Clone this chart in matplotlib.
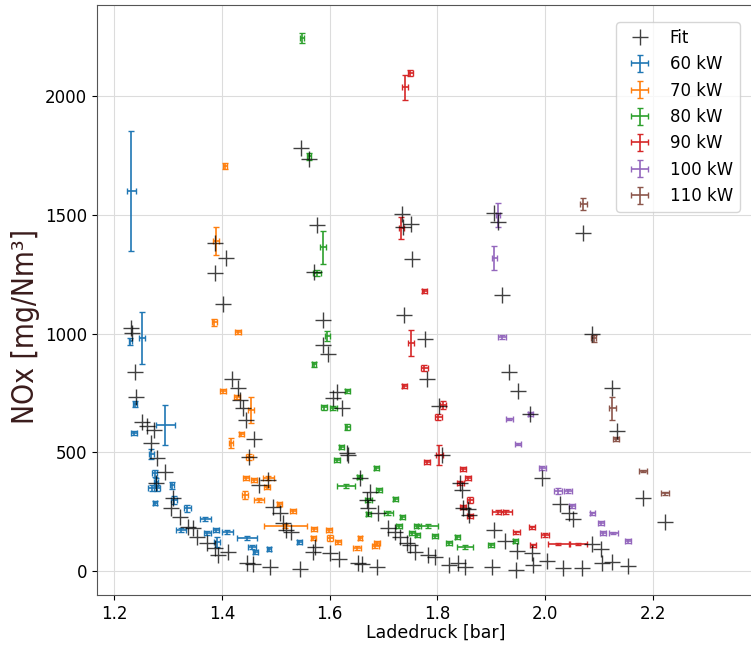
import numpy as np
import matplotlib
matplotlib.use('Agg')
import matplotlib.pyplot as plt

# Messpunkte je Leistungsstufe: x, y, xerr, yerr
p60_x = [1.232, 1.252, 1.230, 1.239, 1.295, 1.237, 1.269, 1.275, 1.278, 1.270, 1.280, 1.276, 1.308,
         1.311, 1.336, 1.324, 1.369, 1.373, 1.389, 1.391, 1.410, 1.447, 1.456, 1.462, 1.488, 1.544]
p60_y = [1600, 981, 968, 703, 615, 581, 493, 412, 375, 349, 349, 286, 362,
         299, 265, 173, 219, 160, 173, 122, 164, 139, 101, 80, 93, 122]
p60_xerr = [0.009, 0.006, 0.003, 0.004, 0.018, 0.006, 0.005, 0.004, 0.004, 0.008, 0.006, 0.004, 0.004,
            0.006, 0.006, 0.010, 0.010, 0.006, 0.006, 0.006, 0.010, 0.019, 0.008, 0.005, 0.004, 0.004]
p60_yerr = [253, 110, 15, 12, 86, 10, 20, 15, 15, 12, 12, 10, 15,
            15, 15, 10, 10, 10, 10, 20, 10, 10, 10, 10, 10, 10]

p70_x = [1.406, 1.389, 1.386, 1.430, 1.402, 1.428, 1.454, 1.436, 1.417, 1.451, 1.445, 1.460, 1.486, 1.484,
         1.443, 1.469, 1.507, 1.532, 1.518, 1.571, 1.599, 1.570, 1.601, 1.616, 1.657, 1.651, 1.688, 1.685]
p70_y = [1705, 1389, 1048, 1006, 758, 733, 678, 577, 539, 480, 392, 383, 392, 354,
         320, 299, 282, 253, 190, 177, 173, 139, 139, 122, 139, 97, 118, 105]
p70_xerr = [0.004, 0.006, 0.005, 0.005, 0.006, 0.005, 0.006, 0.005, 0.004, 0.006, 0.006, 0.006, 0.010, 0.006,
            0.006, 0.010, 0.005, 0.005, 0.040, 0.005, 0.006, 0.005, 0.006, 0.005, 0.004, 0.008, 0.006, 0.006]
p70_yerr = [12, 59, 15, 8, 10, 10, 53, 8, 20, 12, 8, 8, 8, 10,
            15, 8, 10, 8, 8, 8, 8, 8, 12, 8, 8, 8, 8, 8]

p80_x = [1.549, 1.562, 1.588, 1.577, 1.596, 1.571, 1.633, 1.590, 1.607, 1.633, 1.622, 1.614, 1.631, 1.687,
         1.655, 1.692, 1.672, 1.722, 1.672, 1.709, 1.735, 1.729, 1.763, 1.753, 1.783, 1.763, 1.796, 1.837,
         1.822, 1.852, 1.900, 1.945]
p80_y = [2244, 1747, 1364, 1255, 989, 871, 758, 690, 686, 606, 522, 467, 358, 434,
         396, 341, 299, 303, 240, 244, 227, 190, 190, 160, 190, 152, 147, 143,
         118, 101, 109, 126]
p80_xerr = [0.003, 0.004, 0.006, 0.008, 0.005, 0.004, 0.005, 0.005, 0.006, 0.004, 0.005, 0.005, 0.017, 0.005,
            0.005, 0.005, 0.006, 0.005, 0.005, 0.008, 0.005, 0.006, 0.006, 0.006, 0.019, 0.005, 0.005, 0.005,
            0.005, 0.015, 0.005, 0.005]
p80_yerr = [20, 15, 70, 12, 20, 10, 8, 10, 8, 12, 10, 8, 10, 8,
            10, 8, 10, 8, 10, 8, 8, 8, 8, 8, 8, 8, 8, 8,
            8, 8, 8, 8]

p90_x = [1.750, 1.740, 1.733, 1.776, 1.751, 1.776, 1.739, 1.811, 1.802, 1.781, 1.804, 1.848, 1.857,
         1.843, 1.861, 1.848, 1.861, 1.912, 1.928, 1.947, 1.976, 1.978, 2.000, 2.025, 2.062]
p90_y = [2097, 2037, 1444, 1179, 960, 855, 779, 699, 648, 459, 488, 429, 392,
         370, 299, 269, 232, 248, 248, 164, 185, 109, 152, 114, 114]
p90_xerr = [0.004, 0.005, 0.005, 0.005, 0.006, 0.006, 0.005, 0.006, 0.006, 0.006, 0.006, 0.006, 0.005,
            0.006, 0.006, 0.006, 0.005, 0.010, 0.010, 0.006, 0.005, 0.005, 0.008, 0.020, 0.015]
p90_yerr = [12, 52, 46, 10, 55, 12, 8, 15, 12, 10, 43, 8, 8,
            8, 12, 8, 8, 8, 8, 6, 6, 6, 8, 6, 6]

p100_x = [1.913, 1.906, 1.920, 1.934, 1.950, 1.973, 1.995, 2.024, 2.043, 2.050, 2.088, 2.104, 2.108, 2.127, 2.154]
p100_y = [1499, 1318, 985, 640, 535, 661, 434, 337, 337, 274, 244, 202, 160, 160, 126]
p100_xerr = [0.004, 0.005, 0.007, 0.006, 0.005, 0.005, 0.006, 0.007, 0.007, 0.006, 0.005, 0.005, 0.006, 0.008, 0.006]
p100_yerr = [50, 52, 8, 6, 6, 8, 8, 12, 8, 8, 6, 8, 8, 6, 8]

p110_x = [2.071, 2.090, 2.125, 2.132, 2.182, 2.223]
p110_y = [1545, 981, 686, 556, 421, 328]
p110_xerr = [0.006, 0.005, 0.006, 0.006, 0.007, 0.008]
p110_yerr = [25, 15, 48, 8, 6, 6]

# Fit-Werte
fit_x = [1.547, 1.562, 1.577, 1.388, 1.408, 1.388, 1.571, 1.402, 1.232, 1.233, 1.239, 1.241, 1.252, 1.261,
         1.274, 1.269, 1.279, 1.295, 1.278, 1.310, 1.306, 1.323, 1.338, 1.347, 1.354, 1.373, 1.388, 1.393,
         1.412, 1.447, 1.458, 1.490, 1.545, 1.419, 1.430, 1.434, 1.440, 1.445, 1.460, 1.451, 1.469, 1.486,
         1.495, 1.508, 1.514, 1.519, 1.529, 1.573, 1.601, 1.618, 1.588, 1.588, 1.597, 1.614, 1.607, 1.623,
         1.633, 1.635, 1.657, 1.675, 1.670, 1.672, 1.690, 1.709, 1.722, 1.731, 1.744, 1.759, 1.570, 1.653,
         1.688, 1.661, 1.735, 1.737, 1.751, 1.753, 1.906, 1.913, 1.920, 2.071, 1.739, 1.778, 1.781, 1.804,
         1.809, 1.843, 1.846, 1.848, 1.857, 1.859, 1.934, 1.950, 1.973, 1.995, 2.027, 2.045, 2.052, 2.088,
         1.906, 1.926, 1.948, 1.976, 2.004, 1.750, 1.783, 1.796, 1.822, 1.839, 1.852, 1.902, 1.947, 1.978,
         2.034, 2.069, 2.134, 2.182, 2.223, 2.088, 2.104, 2.106, 2.125, 2.154, 2.125]
fit_y = [1781, 1735, 1457, 1381, 1318, 1255, 1259, 1124, 1023, 1002, 838, 733, 627, 610,
         594, 539, 476, 417, 370, 307, 265, 227, 185, 181, 143, 118, 97, 67,
         80, 34, 29, 17, 8, 808, 770, 720, 686, 636, 556, 480, 362, 383,
         269, 244, 202, 173, 164, 101, 76, 51, 1057, 951, 914, 754, 728, 686,
         497, 488, 392, 333, 299, 265, 244, 181, 164, 143, 118, 80, 80, 34,
         17, 29, 1503, 1448, 1461, 1313, 1507, 1469, 1162, 1423, 1078, 977, 808, 695,
         488, 370, 341, 265, 261, 236, 838, 758, 661, 392, 282, 244, 219, 998,
         173, 126, 84, 76, 42, 109, 67, 59, 25, 34, 17, 17, 4, 25,
         13, 13, 590, 307, 206, 114, 93, 34, 38, 21, 770]

series = [
    ('60 kW', p60_x, p60_y, p60_xerr, p60_yerr, 'tab:blue'),
    ('70 kW', p70_x, p70_y, p70_xerr, p70_yerr, 'tab:orange'),
    ('80 kW', p80_x, p80_y, p80_xerr, p80_yerr, 'tab:green'),
    ('90 kW', p90_x, p90_y, p90_xerr, p90_yerr, 'tab:red'),
    ('100 kW', p100_x, p100_y, p100_xerr, p100_yerr, 'tab:purple'),
    ('110 kW', p110_x, p110_y, p110_xerr, p110_yerr, 'tab:brown'),
]

fig = plt.figure(figsize=(7.51, 6.45), dpi=100)
# Achse ragt rechts etwas über das Bild hinaus (wie in der Vorlage abgeschnitten)
ax = fig.add_axes([0.129, 0.0775, 0.903, 0.9145])

for label, x, y, xe, ye, col in series:
    ax.errorbar(x, y, xerr=xe, yerr=ye, fmt='none', ecolor=col, elinewidth=1.2,
                capsize=2, capthick=1.0, label=label, zorder=2)

ax.plot(fit_x, fit_y, linestyle='none', marker='+', markersize=11, markeredgewidth=1.0,
        color='black', alpha=0.75, label='Fit', zorder=3)

ax.set_xlim(1.168, 2.427)
ax.set_ylim(-101, 2383)
ax.set_xticks([1.2, 1.4, 1.6, 1.8, 2.0, 2.2])
ax.set_yticks([0, 500, 1000, 1500, 2000])
ax.tick_params(labelsize=12)
ax.grid(True, color='#dcdcdc', linewidth=0.8)
ax.set_axisbelow(True)
for sp in ax.spines.values():
    sp.set_color('#555555')

ax.set_xlabel('Ladedruck [bar]', fontsize=12.5, labelpad=1)
ax.set_ylabel('NOx [mg/Nm³]', fontsize=21.5, color='#3a1c1c',
              family=['DejaVu Sans'], fontstretch='condensed')
ax.yaxis.set_label_coords(-0.084, 0.455)

ax.legend(loc='upper right', bbox_to_anchor=(748 / 751, 1 - 14 / 645),
          bbox_transform=fig.transFigure, fontsize=12, framealpha=0.8)

fig.savefig('out.png', dpi=100)
